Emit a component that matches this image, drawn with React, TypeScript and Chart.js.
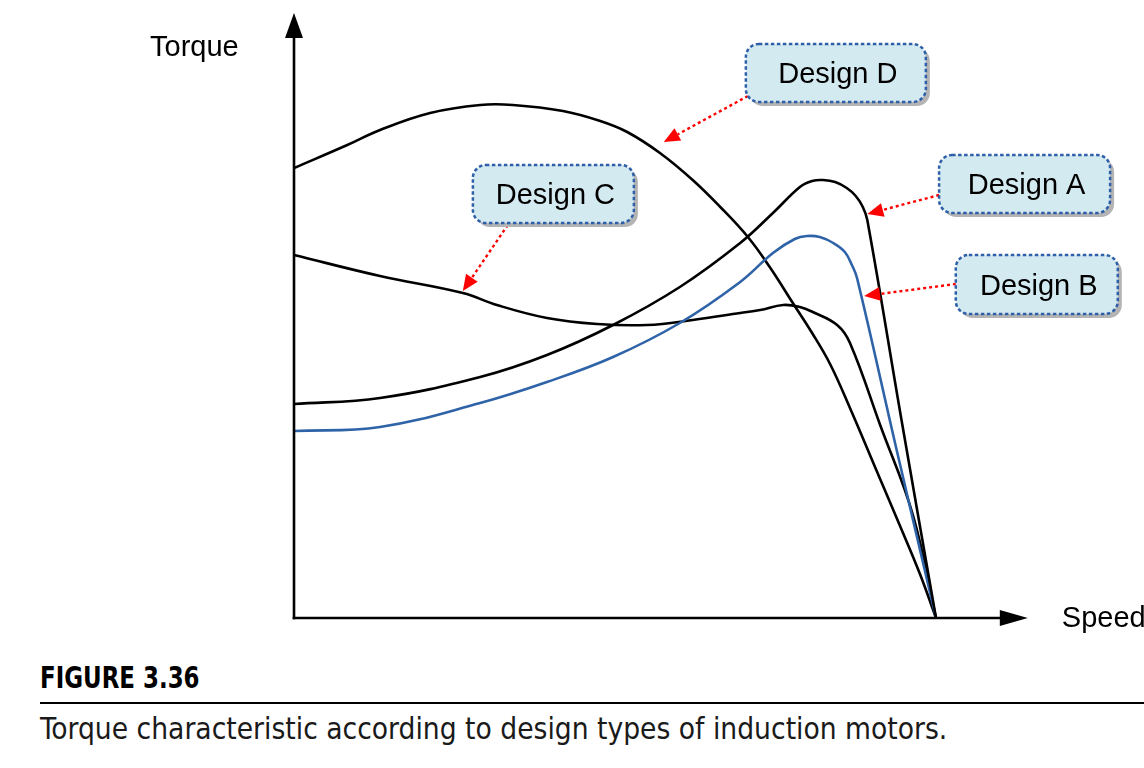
import React, { useEffect, useRef } from "react";
import { Chart, registerables } from "chart.js";

Chart.register(...registerables);

// Speed in % of synchronous speed, torque in arbitrary % units
const speedD = [0, 8.3, 13.4, 21.2, 29.0, 34.1, 41.9, 47.7, 51.9, 57.0, 62.1, 66.4, 70.7, 74.1, 77.7, 80.7, 83.5, 86.6, 90.5, 94.4, 97.5, 100];
const torqueD = [225, 236.5, 244, 252.5, 256.5, 256.5, 253.5, 248.5, 243, 232.5, 219, 205.5, 190.5, 175.5, 157.5, 142.5, 127, 105, 75.5, 46, 22, 0];

const speedC = [0, 13.4, 26.3, 31.6, 39.4, 47.2, 55.0, 62.1, 69.5, 72.6, 76.2, 78.8, 80.8, 84.6, 86.6, 91.3, 96.4, 100];
const torqueC = [181.5, 171, 162.5, 156.5, 150, 147, 146.5, 149, 152.5, 154, 156.5, 155.5, 153, 146.5, 137.5, 96.5, 51.5, 0];

const speedA = [0, 13.4, 29.0, 39.4, 49.7, 60.1, 69.5, 74.6, 78.8, 80.7, 82.4, 84.3, 86.1, 87.5, 88.6, 89.3, 94.6, 100];
const torqueA = [107, 110, 120.5, 131.5, 146.5, 165.5, 187.5, 202.5, 215.5, 218.5, 219, 218, 215, 211, 205.5, 199, 99.5, 0];

const speedB = [0, 13.4, 29.0, 39.4, 49.7, 60.1, 69.5, 74.6, 78.0, 79.9, 81.9, 84.0, 85.8, 86.9, 87.7, 93.8, 100];
const torqueB = [93.5, 95.5, 107.5, 118, 130.5, 147.5, 168, 182.5, 189.5, 191, 190.5, 187.5, 183, 176.5, 170, 85, 0];

const designLabels = ["Design A", "Design B", "Design C", "Design D"];

// Callout label anchors (data units): box centre, arrow start, arrow tip
const calloutBoxX = [113.8, 115.7, 40.4, 84.4];
const calloutBoxY = [217, 166.75, 212, 272.5];
const arrowFromX = [100.5, 103.1, 33.3, 70.7];
const arrowFromY = [211.5, 167, 196.5, 261];
const arrowToX = [89.3, 88.8, 26.3, 57.6];
const arrowToY = [202, 161, 163.5, 238];
const calloutW = [171, 162, 161, 180];
const calloutH = [58, 59, 58, 58];

const axisXEnd = 114.3;
const axisYEnd = 302.5;

const toPoints = (xs: number[], ys: number[]) => xs.map((x, i) => ({ x, y: ys[i] }));

function roundRect(ctx: CanvasRenderingContext2D, x: number, y: number, w: number, h: number, r: number) {
  ctx.beginPath();
  ctx.moveTo(x + r, y);
  ctx.lineTo(x + w - r, y);
  ctx.arcTo(x + w, y, x + w, y + r, r);
  ctx.lineTo(x + w, y + h - r);
  ctx.arcTo(x + w, y + h, x + w - r, y + h, r);
  ctx.lineTo(x + r, y + h);
  ctx.arcTo(x, y + h, x, y + h - r, r);
  ctx.lineTo(x, y + r);
  ctx.arcTo(x, y, x + r, y, r);
  ctx.closePath();
}

const LABEL_FONT = '29px "Liberation Sans", Arial, sans-serif';

const overlay = {
  id: "overlay",
  afterDatasetsDraw(chart: any) {
    const ctx: CanvasRenderingContext2D = chart.ctx;
    const xs = chart.scales.x;
    const ys = chart.scales.y;
    const px = (v: number) => xs.getPixelForValue(v);
    const py = (v: number) => ys.getPixelForValue(v);
    const x0 = px(0);
    const y0 = py(0);
    ctx.save();
    // Axes
    ctx.strokeStyle = "#000";
    ctx.fillStyle = "#000";
    ctx.lineWidth = 2.6;
    const yTip = py(axisYEnd);
    const xTip = px(axisXEnd);
    ctx.beginPath();
    ctx.moveTo(x0, y0 + 1.3);
    ctx.lineTo(x0, yTip + 20);
    ctx.stroke();
    ctx.beginPath();
    ctx.moveTo(x0, yTip);
    ctx.lineTo(x0 - 9, yTip + 25);
    ctx.lineTo(x0 + 9, yTip + 25);
    ctx.closePath();
    ctx.fill();
    ctx.beginPath();
    ctx.moveTo(x0 - 1.3, y0);
    ctx.lineTo(xTip - 24, y0);
    ctx.stroke();
    ctx.beginPath();
    ctx.moveTo(xTip, y0);
    ctx.lineTo(xTip - 28, y0 - 8);
    ctx.lineTo(xTip - 28, y0 + 8);
    ctx.closePath();
    ctx.fill();

    ctx.font = LABEL_FONT;
    ctx.textAlign = "left";
    ctx.textBaseline = "alphabetic";
    ctx.fillStyle = "#000";
    ctx.fillText("Torque", 150, 56);
    ctx.fillText("Speed", xTip + 34, y0 + 9);

    // Callouts
    designLabels.forEach((label, i) => {
      const cx = px(calloutBoxX[i]);
      const cy = py(calloutBoxY[i]);
      const w = calloutW[i];
      const h = calloutH[i];
      const bx = cx - w / 2;
      const by = cy - h / 2;
      // arrow
      const sx = px(arrowFromX[i]);
      const sy = py(arrowFromY[i]);
      const tx = px(arrowToX[i]);
      const ty = py(arrowToY[i]);
      const ang = Math.atan2(ty - sy, tx - sx);
      const headL = 16;
      const headW = 7;
      const bxh = tx - headL * Math.cos(ang);
      const byh = ty - headL * Math.sin(ang);
      ctx.strokeStyle = "#ff0000";
      ctx.fillStyle = "#ff0000";
      ctx.lineWidth = 2.4;
      ctx.setLineDash([3, 3]);
      ctx.beginPath();
      ctx.moveTo(sx, sy);
      ctx.lineTo(bxh, byh);
      ctx.stroke();
      ctx.setLineDash([]);
      ctx.beginPath();
      ctx.moveTo(tx, ty);
      ctx.lineTo(bxh + headW * Math.sin(ang), byh - headW * Math.cos(ang));
      ctx.lineTo(bxh - headW * Math.sin(ang), byh + headW * Math.cos(ang));
      ctx.closePath();
      ctx.fill();

      // shadow
      ctx.fillStyle = "#b4b4b4";
      roundRect(ctx, bx + 4, by + 4, w, h, 13);
      ctx.fill();
      // box
      ctx.fillStyle = "#d4eaf1";
      roundRect(ctx, bx, by, w, h, 13);
      ctx.fill();
      ctx.strokeStyle = "#2e5fa8";
      ctx.lineWidth = 2.5;
      ctx.setLineDash([3.5, 2.5]);
      ctx.stroke();
      ctx.setLineDash([]);
      ctx.fillStyle = "#000";
      ctx.font = LABEL_FONT;
      ctx.textAlign = "center";
      ctx.textBaseline = "alphabetic";
      ctx.fillText(label, cx + 2, cy + 10);
    });
    ctx.restore();
  },
};

export default function App() {
  const ref = useRef<HTMLCanvasElement>(null);
  useEffect(() => {
    if (!ref.current) return;
    const ds = (data: any[], color: string) => ({
      data,
      borderColor: color,
      borderWidth: 2.6,
      pointRadius: 0,
      fill: false,
      tension: 0.4,
      clip: false as any,
    });
    const chart = new Chart(ref.current, {
      type: "line",
      data: {
        datasets: [
          { label: designLabels[0], ...ds(toPoints(speedA, torqueA), "#000000") },
          { label: designLabels[1], ...ds(toPoints(speedB, torqueB), "#2f63a8") },
          { label: designLabels[2], ...ds(toPoints(speedC, torqueC), "#000000") },
          { label: designLabels[3], ...ds(toPoints(speedD, torqueD), "#000000") },
        ],
      },
      options: {
        responsive: false,
        animation: false,
        layout: { padding: { left: 294, right: 208, top: 18, bottom: 32 } },
        scales: {
          x: { type: "linear", min: 0, max: 100, display: false },
          y: { type: "linear", min: 0, max: 300, display: false },
        },
        plugins: { legend: { display: false }, tooltip: { enabled: false } },
      },
      plugins: [overlay],
    });
    return () => chart.destroy();
  }, []);

  return (
    <div style={{ position: "absolute", left: 0, top: 0, width: 1144, height: 768, background: "#fff", overflow: "hidden" }}>
      <canvas ref={ref} width={1144} height={650} style={{ position: "absolute", left: 0, top: 0 }} />
      <div
        style={{
          position: "absolute",
          left: 40,
          top: 663,
          fontFamily: '"DejaVu Sans Condensed", "DejaVu Sans", sans-serif',
          fontStretch: "condensed",
          fontWeight: "bold",
          fontSize: 30,
          lineHeight: "30px",
          whiteSpace: "nowrap",
          color: "#000",
          transform: "scaleX(0.85)",
          transformOrigin: "left top",
        }}
      >
        FIGURE 3.36
      </div>
      <div style={{ position: "absolute", left: 40, top: 701.5, width: 1104, height: 2.5, background: "#000" }} />
      <div
        style={{
          position: "absolute",
          left: 40,
          top: 715,
          fontFamily: '"DejaVu Sans Condensed", "DejaVu Sans", sans-serif',
          fontStretch: "condensed",
          fontSize: 29.6,
          lineHeight: "29.6px",
          whiteSpace: "nowrap",
          color: "#1a1a1a",
        }}
      >
        Torque characteristic according to design types of induction motors.
      </div>
    </div>
  );
}
